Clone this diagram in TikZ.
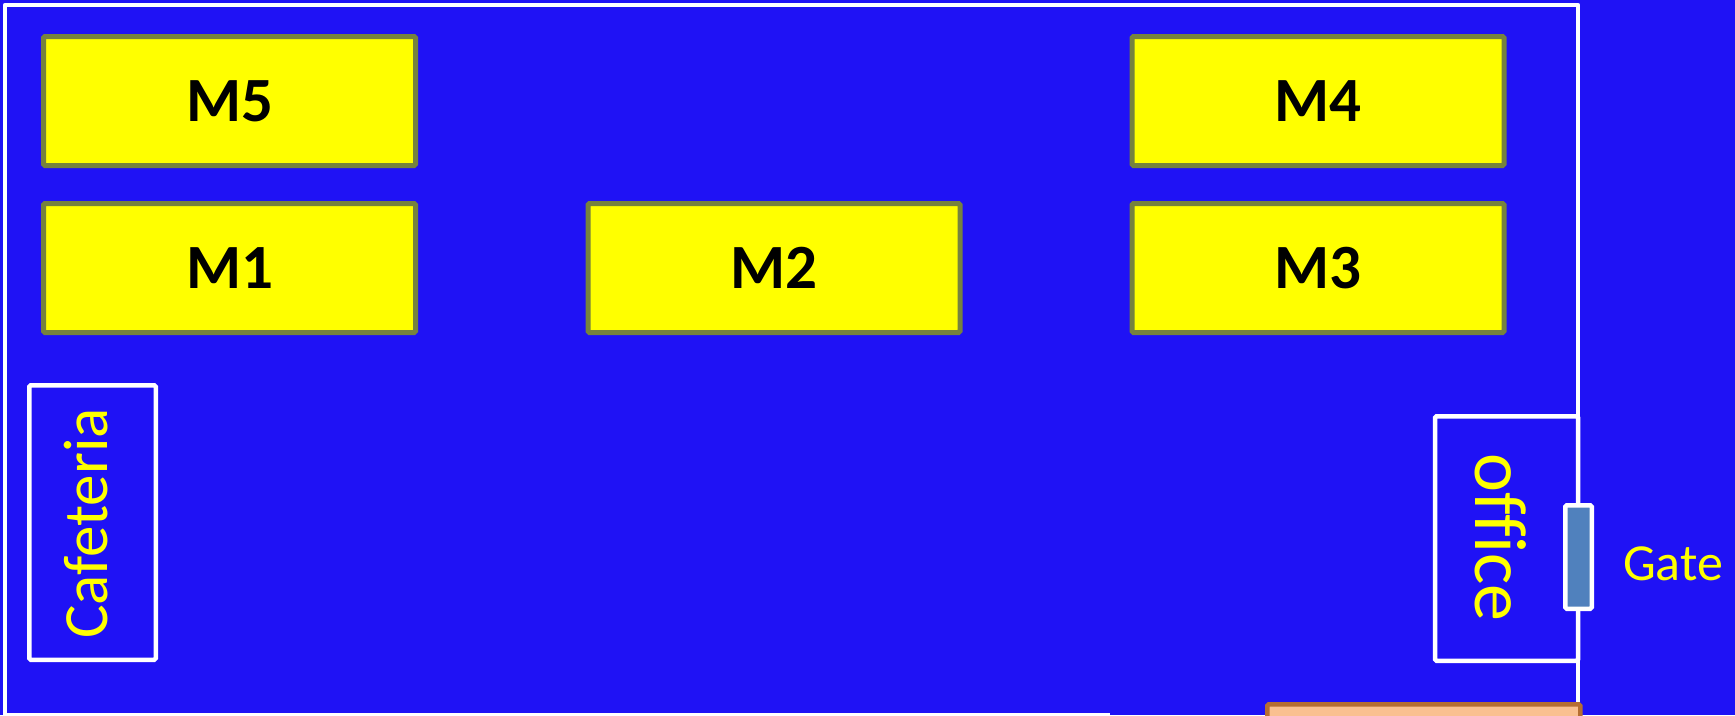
\documentclass[tikz,border=0pt]{standalone}
\usepackage{fontspec}
\setmainfont{Carlito}[Ligatures={TeX,NoCommon}]
\definecolor{floorblue}{RGB}{31,18,245}
\definecolor{mborder}{RGB}{118,130,62}
\definecolor{myellow}{RGB}{255,255,0}
\definecolor{labelyellow}{RGB}{255,255,0}
\definecolor{peach}{RGB}{250,192,144}
\definecolor{peachb}{RGB}{182,110,50}
\definecolor{gatefill}{RGB}{80,129,189}
\tikzset{
  machine/.style={draw=mborder, fill=myellow, line width=5pt, rounded corners=1.5pt,
    minimum width=372pt, minimum height=129pt, inner sep=0pt,
    font=\fontsize{63}{63}\bfseries\selectfont, text=black},
  room/.style={draw=white, line width=4.5pt, rounded corners=1.5pt, inner sep=0pt},
  roomlabel/.style={text=labelyellow, inner sep=0pt, anchor=base},
  wall/.style={draw=white, line width=4.5pt},
}
\begin{document}
\begin{tikzpicture}[x=1pt, y=-1pt]
\clip (0,0) rectangle (1735,715);
\fill[floorblue] (0,0) rectangle (1735,715);
% outer wall
\coordinate (wbl) at (5,720);
\coordinate (wtl) at (5,5);
\coordinate (wtr) at (1578,5);
\coordinate (wbr) at (1578,720);
\draw[wall, line join=round] (wbl) -- (wtl) -- (wtr) -- (wbr);
\coordinate (bl0) at (5,714);
\coordinate (bl1) at (1110,714);
\draw[draw=white, line width=3pt] (bl0) -- (bl1);
% machines
\node[machine] (M5) at (229.5,101) {M5};
\node[machine] (M1) at (229.5,268) {M1};
\node[machine] (M2) at (774,268) {M2};
\node[machine] (M4) at (1318,101) {M4};
\node[machine] (M3) at (1318,268) {M3};
% cafeteria
\node[room, minimum width=126.5pt, minimum height=274.5pt] (caf) at (92.5,522.5) {};
\node[roomlabel, rotate=90, font=\fontsize{63}{63}\selectfont] (caftext) at (107,523.5) {Cafeteria};
% office
\node[room, minimum width=143pt, minimum height=244.5pt] (office) at (1506.5,538.5) {};
\node[roomlabel, rotate=-90, font=\fontsize{74}{74}\selectfont] (officetext) at (1475,537.5) {office};
% gate
\node[draw=white, fill=gatefill, line width=4.5pt, rounded corners=1.5pt, inner sep=0pt,
  minimum width=26.5pt, minimum height=103.5pt] (gate) at (1578.5,557) {};
\node[roomlabel, font=\fontsize{52}{52}\selectfont] (gatetext) at (1673,580) {Gate};
% bottom box
\node[draw=peachb, fill=peach, line width=4.5pt, rounded corners=1.5pt, inner sep=0pt,
  minimum width=313pt, minimum height=60pt, anchor=north west] (store) at (1265,702) {};
\end{tikzpicture}
\end{document}
